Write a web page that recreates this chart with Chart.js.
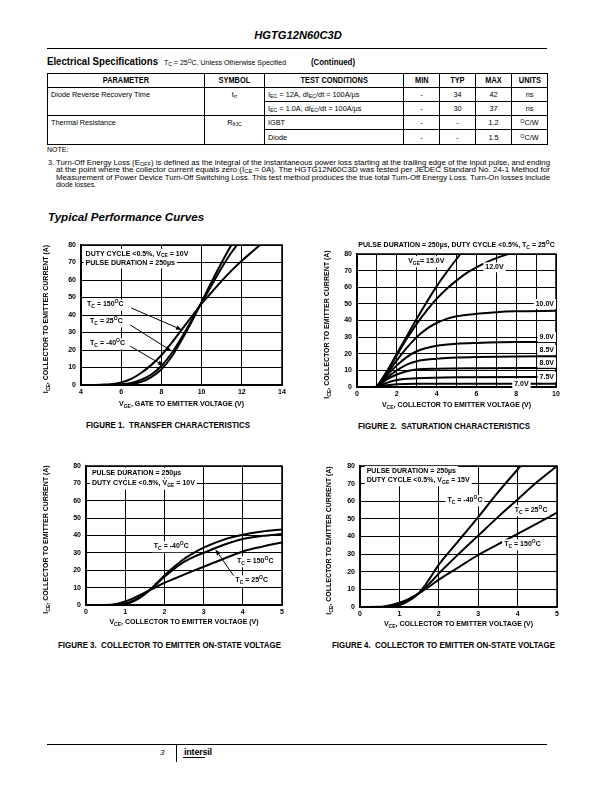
<!DOCTYPE html>
<html>
<head>
<meta charset="utf-8">
<script src="https://cdn.jsdelivr.net/npm/chart.js@4.4.1/dist/chart.umd.min.js"></script>
<style>
  body { margin: 0; background: #fff; }
  #page { position: relative; width: 612px; height: 792px; overflow: hidden;
          font-family: "Liberation Sans", Arial, Helvetica, sans-serif; color: #000; }
  .t { position: absolute; white-space: nowrap; line-height: 9px; }
  .fit { display: inline-block; vertical-align: top; transform-origin: 0 50%; }
  .rule { position: absolute; background: #000; }
  canvas { position: absolute; }
  sub { font-size: 0.72em; vertical-align: -0.25em; line-height: 0; }
  sup { font-size: 0.72em; vertical-align: 0.45em; line-height: 0; }
  #spec { position: absolute; left: 47px; top: 73px; width: 500px; table-layout: fixed;
          border-collapse: collapse; border: 1.5px solid #000; font-size: 7.3px; }
  #spec td, #spec th { border: 1px solid #000; padding: 0 3px; text-align: center;
          white-space: nowrap; line-height: 13px; }
  #spec th { font-weight: bold; font-size: 8.6px; }
  #spec th span { display: inline-block; transform: scaleX(0.86); }
  #spec td.l { text-align: left; }
  #spec td.top { vertical-align: top; line-height: 14px; }
</style>
</head>
<body>
<div id="page">
  <div class="t" style="left:198px;width:200px;top:29px;text-align:center;font:italic bold 11.2px 'Liberation Sans',Arial,sans-serif;">HGTG12N60C3D</div>
  <div class="rule" style="left:47px;top:48px;width:500px;height:1.3px;"></div>

  <div class="t" style="left:47px;top:57px;font-weight:bold;font-size:11px;"><span class="fit" data-w="111">Electrical Specifications</span></div>
  <div class="t" style="left:164px;top:58px;font-size:7px;">T<sub>C</sub> = 25<sup>O</sup>C, Unless Otherwise Specified</div>
  <div class="t" style="left:311px;top:57.5px;font-weight:bold;font-size:9px;"><span class="fit" data-w="44">(Continued)</span></div>

  <table id="spec">
    <colgroup><col style="width:157px"><col style="width:60px"><col style="width:139px"><col style="width:36px"><col style="width:36px"><col style="width:36px"><col style="width:36px"></colgroup>
    <tr style="height:13px"><th><span>PARAMETER</span></th><th><span>SYMBOL</span></th><th><span>TEST CONDITIONS</span></th><th><span>MIN</span></th><th><span>TYP</span></th><th><span>MAX</span></th><th><span>UNITS</span></th></tr>
    <tr style="height:14px"><td rowspan="2" class="l top">Diode Reverse Recovery Time</td><td rowspan="2" class="top">t<sub>rr</sub></td><td class="l">I<sub>EC</sub> = 12A, dI<sub>EC</sub>/dt = 100A/µs</td><td>-</td><td>34</td><td>42</td><td>ns</td></tr>
    <tr style="height:14px"><td class="l">I<sub>EC</sub> = 1.0A, dI<sub>EC</sub>/dt = 100A/µs</td><td>-</td><td>30</td><td>37</td><td>ns</td></tr>
    <tr style="height:14px"><td rowspan="2" class="l top">Thermal Resistance</td><td rowspan="2" class="top">R<sub>θJC</sub></td><td class="l">IGBT</td><td>-</td><td>-</td><td>1.2</td><td><sup>O</sup>C/W</td></tr>
    <tr style="height:15px"><td class="l">Diode</td><td>-</td><td>-</td><td>1.5</td><td><sup>O</sup>C/W</td></tr>
  </table>

  <div class="t" style="left:47px;top:145px;font-size:7px;">NOTE:</div>
  <div class="t" style="left:48px;top:157.5px;font-size:7.3px;">3.</div>
  <div class="t" style="left:56px;top:157.5px;font-size:7.3px;"><span class="fit" data-w="494">Turn-Off Energy Loss (E<sub>OFF</sub>) is defined as the integral of the instantaneous power loss starting at the trailing edge of the input pulse, and ending</span></div>
  <div class="t" style="left:56px;top:165px;font-size:7.3px;"><span class="fit" data-w="494">at the point where the collector current equals zero (I<sub>CE</sub> = 0A). The HGTG12N60C3D was tested per JEDEC Standard No. 24-1 Method for</span></div>
  <div class="t" style="left:56px;top:172.5px;font-size:7.3px;"><span class="fit" data-w="494">Measurement of Power Device Turn-Off Switching Loss. This test method produces the true total Turn-Off Energy Loss. Turn-On losses include</span></div>
  <div class="t" style="left:56px;top:180px;font-size:7.3px;"><span class="fit" data-w="40">diode losses.</span></div>

  <div class="t" style="left:48px;top:210px;line-height:12px;font:italic bold 11.6px 'Liberation Sans',Arial,sans-serif;">Typical Performance Curves</div>

  <canvas id="fig1"></canvas>
  <canvas id="fig2"></canvas>
  <canvas id="fig3"></canvas>
  <canvas id="fig4"></canvas>

  <div class="t" style="left:86px;top:421px;font-weight:bold;font-size:8.6px;"><span class="fit" data-w="164">FIGURE 1.&nbsp; TRANSFER CHARACTERISTICS</span></div>
  <div class="t" style="left:358px;top:421.5px;font-weight:bold;font-size:8.6px;"><span class="fit" data-w="172">FIGURE 2.&nbsp; SATURATION CHARACTERISTICS</span></div>
  <div class="t" style="left:58px;top:641px;font-weight:bold;font-size:8.6px;"><span class="fit" data-w="223">FIGURE 3.&nbsp; COLLECTOR TO EMITTER ON-STATE VOLTAGE</span></div>
  <div class="t" style="left:332px;top:641px;font-weight:bold;font-size:8.6px;"><span class="fit" data-w="223">FIGURE 4.&nbsp; COLLECTOR TO EMITTER ON-STATE VOLTAGE</span></div>

  <div class="rule" style="left:47px;top:744px;width:500px;height:1.3px;"></div>
  <div class="t" style="left:160px;top:748px;font:italic 8px 'Liberation Sans',Arial,sans-serif;">3</div>
  <div class="rule" style="left:176px;top:744px;width:1px;height:18px;"></div>
  <div class="t" style="left:184px;top:747px;font:bold 9px 'Liberation Sans',Arial,sans-serif;letter-spacing:-0.2px;">intersil</div>
  <div class="rule" style="left:183px;top:757px;width:22px;height:1.2px;"></div>
</div>

<script>
// ---------- data ----------
// Figure 1: transfer characteristics, I_CE (A) vs V_GE (V)
var f1X150 = [4.5, 5, 5.5, 6, 6.5, 7, 7.5, 8, 8.5, 9, 9.5, 10, 10.5, 11, 11.5, 12, 12.5, 12.9];
var f1Y150 = [0, 0.2, 0.5, 1.5, 3.5, 7, 11.5, 17, 24, 31.5, 39, 46.5, 53, 59.5, 65.5, 71, 76, 80];
var f1X25 = [4.5, 5, 5.5, 6, 6.5, 7, 7.5, 8, 8.5, 9, 9.5, 10, 10.5, 11, 11.5, 11.76];
var f1Y25 = [0, 0, 0.1, 0.4, 1.2, 3, 6, 11, 18, 27, 37, 47, 57, 67, 76, 80];
var f1Xm40 = [4.5, 5, 5.5, 6, 6.5, 7, 7.5, 8, 8.5, 9, 9.5, 10, 10.5, 11, 11.48];
var f1Ym40 = [0, 0, 0, 0.2, 0.6, 1.8, 4.5, 9, 16, 25.5, 36, 47.5, 59, 70, 80];

// Figure 2: saturation characteristics, I_CE (A) vs V_CE (V), one curve per V_GE
var f2X15 = [0, 0.9, 1.0, 1.5, 2, 2.5, 3, 3.5, 4, 4.5, 5, 5.2];
var f2Y15 = [0, 0, 0.5, 9.5, 20, 30.5, 41, 51, 60.5, 69, 77, 80];
var f2X12 = [0, 0.9, 1.0, 1.5, 2, 2.5, 3, 3.5, 4, 4.5, 5, 5.5, 6, 6.5, 7, 7.6];
var f2Y12 = [0, 0, 0.5, 9, 19, 29, 38, 46, 53, 59, 64, 68.5, 72, 75, 77.5, 80];
var f2X10 = [0, 0.9, 1.0, 1.5, 2, 2.5, 3, 3.5, 4, 4.5, 5, 6, 7, 8, 10];
var f2Y10 = [0, 0, 0.5, 8, 16, 23.5, 30, 35, 38.5, 41, 42.5, 44, 45, 45.5, 45.8];
var f2X9 = [0, 0.9, 1.0, 1.5, 2, 2.5, 3, 3.5, 4, 5, 6, 8, 10];
var f2Y9 = [0, 0, 0.3, 7, 13, 18, 21.5, 23.5, 24.8, 26, 26.5, 27, 27];
var f2X85 = [0, 0.9, 1.0, 1.5, 2, 2.5, 3, 4, 5, 6, 8, 10];
var f2Y85 = [0, 0, 0.2, 5.5, 10, 13.5, 15.5, 17, 17.8, 18, 18.3, 18.5];
var f2X8 = [0, 0.9, 1.0, 1.5, 2, 2.5, 3, 4, 6, 10];
var f2Y8 = [0, 0, 0.1, 4.5, 7.5, 9.5, 10.5, 11, 11.3, 11.5];
var f2X75 = [0, 0.9, 1.0, 1.5, 2, 3, 5, 10];
var f2Y75 = [0, 0, 0.1, 2.5, 4.2, 5.2, 5.8, 6];
var f2X7 = [0, 0.9, 1.0, 1.5, 2, 3, 10];
var f2Y7 = [0, 0, 0, 1, 1.6, 1.9, 2];

// Figure 3: on-state voltage at V_GE = 10V
var f3X = [0, 0.5, 0.8, 1, 1.2, 1.4, 1.6, 1.8, 2, 2.25, 2.5, 2.75, 3, 3.5, 4, 4.5, 5];
var f3Ym40 = [0, 0, 0.1, 0.6, 2, 4.5, 8, 12.5, 17, 22, 26.5, 30, 33, 37.5, 40.4, 42.3, 43.5];
var f3Y25 = [0, 0, 0.2, 0.8, 2.5, 5, 8.2, 12, 16.3, 20.8, 24.8, 27.7, 30, 34.5, 38, 39.8, 40.8];
var f3Y150 = [0, 0.05, 0.8, 2, 3.8, 6, 8.3, 10.5, 12.7, 15.1, 17.5, 19.8, 22, 26.5, 30.8, 33.6, 36];

// Figure 4: on-state voltage at V_GE = 15V
var f4X = [0.2, 0.5, 0.8, 1, 1.2, 1.4, 1.5, 1.75, 2, 2.5, 3, 3.5, 4, 4.5, 5];
var f4Xm40 = [0.2, 0.5, 0.8, 1, 1.2, 1.4, 1.5, 1.75, 2, 2.5, 3, 3.5, 4, 4.08];
var f4Ym40 = [0, 0, 0.2, 1, 3, 6, 8, 15.5, 24, 37.5, 51, 65, 78, 80];
var f4Y25 = [0, 0, 0.5, 1.8, 3.8, 6.5, 8, 13, 19, 30, 40.5, 51, 61, 71, 80];
var f4Y150 = [0, 0.1, 1.2, 2.5, 4.2, 6.5, 7.8, 11.5, 15.5, 22.5, 29.5, 35.5, 41.5, 47.5, 53.5];

// ---------- drawing helpers ----------
var FONT = "'Liberation Sans', Arial, Helvetica, sans-serif";
Chart.defaults.font.family = FONT;
Chart.defaults.color = '#000';

// "T{_C} = 25{^O}C" -> text pieces with sub/superscripts
function parseRich(str) {
    var parts = [], re = /\{([_^])([^}]*)\}/g, last = 0, m;
    while ((m = re.exec(str))) {
        if (m.index > last) parts.push({ t: str.slice(last, m.index), k: '' });
        parts.push({ t: m[2], k: m[1] });
        last = re.lastIndex;
    }
    if (last < str.length) parts.push({ t: str.slice(last), k: '' });
    return parts;
}

function drawRich(ctx, str, x, y, size, align, bg) {
    var parts = parseRich(str), w = 0, hasSub = false;
    parts.forEach(function(p) {
        p.s = p.k ? size * 0.72 : size;
        ctx.font = 'bold ' + p.s + 'px ' + FONT;
        p.w = ctx.measureText(p.t).width;
        w += p.w;
        if (p.k === '_') hasSub = true;
    });
    var x0 = align === 'center' ? x - w / 2 : (align === 'right' ? x - w : x);
    if (bg) {
        ctx.fillStyle = '#fff';
        ctx.fillRect(x0 - 2, y - size * 0.7, w + 4, size * 1.4 + (hasSub ? size * 0.2 : 0));
    }
    ctx.fillStyle = '#000';
    ctx.textBaseline = 'middle';
    ctx.textAlign = 'left';
    parts.forEach(function(p) {
        ctx.font = 'bold ' + p.s + 'px ' + FONT;
        var dy = p.k === '_' ? size * 0.32 : (p.k === '^' ? -size * 0.38 : 0);
        ctx.fillText(p.t, x0, y + dy);
        x0 += p.w;
    });
}

function drawArrow(ctx, x1, y1, x2, y2) {
    var ang = Math.atan2(y2 - y1, x2 - x1), L = 6, W = 2.2;
    var bx = x2 - L * Math.cos(ang), by = y2 - L * Math.sin(ang);
    ctx.strokeStyle = '#000';
    ctx.fillStyle = '#000';
    ctx.lineWidth = 1;
    ctx.beginPath(); ctx.moveTo(x1, y1); ctx.lineTo(bx, by); ctx.stroke();
    ctx.beginPath();
    ctx.moveTo(x2, y2);
    ctx.lineTo(bx + W * Math.sin(ang), by - W * Math.cos(ang));
    ctx.lineTo(bx - W * Math.sin(ang), by + W * Math.cos(ang));
    ctx.closePath(); ctx.fill();
}

// frame, in-plot notes, arrows and axis titles (positions in data units)
var notesPlugin = {
    id: 'notes',
    beforeDatasetsDraw: function(chart) {
        var a = chart.chartArea, ctx = chart.ctx;
        ctx.save();
        ctx.strokeStyle = '#000';
        ctx.lineWidth = 1.5;
        ctx.strokeRect(a.left, a.top, a.right - a.left, a.bottom - a.top);
        ctx.restore();
    },
    afterDatasetsDraw: function(chart, args, opts) {
        var ctx = chart.ctx, xs = chart.scales.x, ys = chart.scales.y;
        ctx.save();
        (opts.arrows || []).forEach(function(r) {
            drawArrow(ctx, xs.getPixelForValue(r[0]), ys.getPixelForValue(r[1]),
                xs.getPixelForValue(r[2]), ys.getPixelForValue(r[3]));
        });
        (opts.labels || []).forEach(function(l) {
            drawRich(ctx, l.text, xs.getPixelForValue(l.x), ys.getPixelForValue(l.y), 7, l.align || 'left', true);
        });
        ctx.restore();
    },
    afterDraw: function(chart, args, opts) {
        var ctx = chart.ctx, a = chart.chartArea;
        ctx.save();
        drawRich(ctx, opts.xTitle, (a.left + a.right) / 2, a.bottom + opts.xTitleGap, 7, 'center', false);
        if (opts.top) drawRich(ctx, opts.top, (a.left + a.right) / 2, a.top - 9, 7, 'center', false);
        ctx.translate(a.left - opts.yTitleGap, (a.top + a.bottom) / 2 + 4);
        ctx.rotate(-Math.PI / 2);
        drawRich(ctx, opts.yTitle, 0, 0, 7, 'center', false);
        ctx.restore();
    }
};

function curve(xs, ys) {
    return {
        data: xs.map(function(x, i) { return { x: x, y: ys[i] }; }),
        borderColor: '#000',
        borderWidth: 2,
        pointRadius: 0,
        fill: false,
        cubicInterpolationMode: 'monotone'
    };
}

var YW = 48, PADT = 16, PADR = 10, XH = 30;

function makeChart(id, box, spec) {
    var canvas = document.getElementById(id);
    canvas.width = box.R - box.L + YW + PADR;
    canvas.height = box.B - box.T + PADT + XH;
    canvas.style.left = (box.L - YW) + 'px';
    canvas.style.top = (box.T - PADT) + 'px';
    var tickFont = { size: 7, weight: 'bold' };
    return new Chart(canvas, {
        type: 'line',
        data: { datasets: spec.datasets },
        plugins: [notesPlugin],
        options: {
            responsive: false,
            animation: false,
            events: [],
            layout: { padding: { top: PADT, right: PADR, left: 0, bottom: 0 } },
            plugins: {
                legend: { display: false },
                tooltip: { enabled: false },
                notes: spec.notes
            },
            scales: {
                x: {
                    type: 'linear',
                    min: spec.xMin, max: spec.xMax,
                    ticks: { stepSize: spec.xStep, font: tickFont, padding: 3, maxRotation: 0, autoSkip: false,
                        callback: spec.xLabel || function(v) { return v; } },
                    grid: { color: '#000', lineWidth: 1, drawTicks: false },
                    border: { display: true, color: '#000', width: 1.5 },
                    afterFit: function(s) { s.height = XH; }
                },
                y: {
                    min: 0, max: 80,
                    ticks: { stepSize: 10, font: tickFont, padding: 5 },
                    grid: { color: '#000', lineWidth: 1, drawTicks: false },
                    border: { display: true, color: '#000', width: 1.5 },
                    afterFit: function(s) { s.width = YW; }
                }
            }
        }
    });
}

var Y_TITLE = 'I{_CE}, COLLECTOR TO EMITTER CURRENT (A)';
var X_TITLE_CE = 'V{_CE}, COLLECTOR TO EMITTER VOLTAGE (V)';

makeChart('fig1', { L: 81, T: 245, R: 282, B: 385 }, {
    xMin: 4, xMax: 14, xStep: 2,
    datasets: [curve(f1X150, f1Y150), curve(f1X25, f1Y25), curve(f1Xm40, f1Ym40)],
    notes: {
        xTitle: 'V{_GE}, GATE TO EMITTER VOLTAGE (V)', xTitleGap: 19,
        yTitle: Y_TITLE, yTitleGap: 35,
        arrows: [[6.5, 44, 9.02, 31.5], [6.45, 34.3, 8.5, 19.5], [6.45, 22.2, 8.12, 11]],
        labels: [
            { x: 4.23, y: 75, text: 'DUTY CYCLE <0.5%, V{_CE} = 10V' },
            { x: 4.23, y: 69.4, text: 'PULSE DURATION = 250µs' },
            { x: 4.3, y: 46, text: 'T{_C} = 150{^O}C' },
            { x: 4.45, y: 36.5, text: 'T{_C} = 25{^O}C' },
            { x: 4.45, y: 24, text: 'T{_C} = -40{^O}C' }
        ]
    }
});

makeChart('fig2', { L: 357, T: 254, R: 556, B: 387 }, {
    xMin: 0, xMax: 10, xStep: 1,
    xLabel: function(v) { return v % 2 === 0 ? v : ''; },
    datasets: [curve(f2X15, f2Y15), curve(f2X12, f2Y12), curve(f2X10, f2Y10), curve(f2X9, f2Y9),
        curve(f2X85, f2Y85), curve(f2X8, f2Y8), curve(f2X75, f2Y75), curve(f2X7, f2Y7)],
    notes: {
        xTitle: X_TITLE_CE, xTitleGap: 18,
        yTitle: Y_TITLE, yTitleGap: 30,
        top: 'PULSE DURATION = 250µs, DUTY CYCLE <0.5%, T{_C} = 25{^O}C',
        labels: [
            { x: 2.57, y: 75.8, text: 'V{_GE}= 15.0V' },
            { x: 6.45, y: 72, text: '12.0V' },
            { x: 9.9, y: 50, text: '10.0V', align: 'right' },
            { x: 9.9, y: 30, text: '9.0V', align: 'right' },
            { x: 9.9, y: 22.3, text: '8.5V', align: 'right' },
            { x: 9.9, y: 14.5, text: '8.0V', align: 'right' },
            { x: 9.9, y: 6, text: '7.5V', align: 'right' },
            { x: 7.9, y: 2, text: '7.0V' }
        ]
    }
});

makeChart('fig3', { L: 86, T: 466, R: 282, B: 605 }, {
    xMin: 0, xMax: 5, xStep: 1,
    datasets: [curve(f3X, f3Ym40), curve(f3X, f3Y25), curve(f3X, f3Y150)],
    notes: {
        xTitle: X_TITLE_CE, xTitleGap: 17,
        yTitle: Y_TITLE, yTitleGap: 40,
        arrows: [[3.77, 16.7, 3.3, 32]],
        labels: [
            { x: 0.15, y: 76.2, text: 'PULSE DURATION = 250µs' },
            { x: 0.15, y: 70, text: 'DUTY CYCLE <0.5%, V{_GE} = 10V' },
            { x: 1.73, y: 34, text: 'T{_C} = -40{^O}C' },
            { x: 3.85, y: 25.3, text: 'T{_C} = 150{^O}C' },
            { x: 3.81, y: 14.2, text: 'T{_C} = 25{^O}C' }
        ]
    }
});

makeChart('fig4', { L: 360, T: 466, R: 557, B: 607 }, {
    xMin: 0, xMax: 5, xStep: 1,
    datasets: [curve(f4Xm40, f4Ym40), curve(f4X, f4Y25), curve(f4X, f4Y150)],
    notes: {
        xTitle: X_TITLE_CE, xTitleGap: 17,
        yTitle: Y_TITLE, yTitleGap: 31,
        labels: [
            { x: 0.17, y: 77.2, text: 'PULSE DURATION = 250µs' },
            { x: 0.17, y: 72.1, text: 'DUTY CYCLE <0.5%, V{_GE} = 15V' },
            { x: 2.22, y: 60.7, text: 'T{_C} = -40{^O}C' },
            { x: 3.93, y: 55, text: 'T{_C} = 25{^O}C' },
            { x: 3.66, y: 35.6, text: 'T{_C} = 150{^O}C' }
        ]
    }
});

// squeeze the condensed-looking headings to their measured widths
document.querySelectorAll('.fit').forEach(function(el) {
    var w = el.getBoundingClientRect().width;
    el.style.transform = 'scaleX(' + (parseFloat(el.dataset.w) / w) + ')';
});
</script>
</body>
</html>
